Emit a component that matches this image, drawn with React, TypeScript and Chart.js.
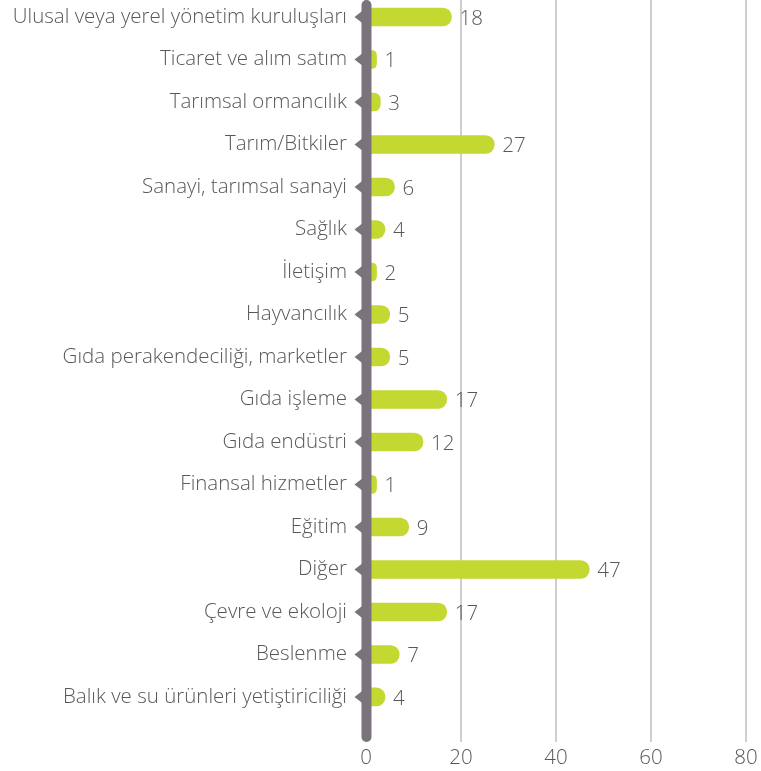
import React, { useEffect, useRef } from "react";
import { Chart, registerables } from "chart.js";

Chart.register(...registerables);

const categories = [
  "Ulusal veya yerel yönetim kuruluşları",
  "Ticaret ve alım satım",
  "Tarımsal ormancılık",
  "Tarım/Bitkiler",
  "Sanayi, tarımsal sanayi",
  "Sağlık",
  "İletişim",
  "Hayvancılık",
  "Gıda perakendeciliği, marketler",
  "Gıda işleme",
  "Gıda endüstri",
  "Finansal hizmetler",
  "Eğitim",
  "Diğer",
  "Çevre ve ekoloji",
  "Beslenme",
  "Balık ve su ürünleri yetiştiriciliği",
];

const values = [18, 1, 3, 27, 6, 4, 2, 5, 5, 17, 12, 1, 9, 47, 17, 7, 4];

const xTicks = [0, 20, 40, 60, 80];

const FONT = "'Open Sans', Lato, sans-serif";
const WEIGHT = 300;
const SIZE = 20.5;
const TEXT = "#58585a";

const decorPlugin = {
  id: "decor",
  afterDatasetsDraw(chart: any) {
    const { ctx, chartArea, scales } = chart;
    const x0 = scales.x.getPixelForValue(0) + 0.5;
    ctx.save();
    ctx.strokeStyle = "#7a737b";
    ctx.lineWidth = 10;
    ctx.lineCap = "round";
    ctx.beginPath();
    ctx.moveTo(x0, chartArea.top + 5);
    ctx.lineTo(x0, chartArea.bottom - 5);
    ctx.stroke();
    ctx.fillStyle = "#7a737b";
    categories.forEach((_, i) => {
      const cy = scales.y.getPixelForValue(i);
      ctx.beginPath();
      ctx.moveTo(x0 - 12, cy);
      ctx.lineTo(x0 - 3, cy - 7);
      ctx.lineTo(x0 - 3, cy + 7);
      ctx.closePath();
      ctx.fill();
    });
    ctx.fillStyle = TEXT;
    ctx.font = `${WEIGHT} ${SIZE}px ${FONT}`;
    ctx.textAlign = "left";
    ctx.textBaseline = "middle";
    const meta = chart.getDatasetMeta(0);
    values.forEach((v, i) => {
      const el = meta.data[i];
      const px = el ? el.x : scales.x.getPixelForValue(v);
      const cy = scales.y.getPixelForValue(i);
      ctx.fillText(String(v), px + 8, cy + 2);
    });
    ctx.restore();
  },
};

export default function App() {
  const ref = useRef<HTMLCanvasElement | null>(null);
  useEffect(() => {
    if (!ref.current) return;
    const chart = new Chart(ref.current, {
      type: "bar",
      data: {
        datasets: [
          {
            data: values.map((v, i) => ({ x: v, y: i })),
            backgroundColor: "#c3d831",
            barThickness: 18,
            borderRadius: 9,
            borderSkipped: "start",
            minBarLength: 10.5,
          } as any,
        ],
      },
      options: {
        indexAxis: "y",
        animation: false,
        responsive: false,
        maintainAspectRatio: false,
        layout: { padding: { top: 0, right: 15, bottom: 0, left: 0 } },
        plugins: { legend: { display: false }, tooltip: { enabled: false } },
        scales: {
          x: {
            type: "linear",
            min: 0,
            max: 80,
            afterBuildTicks: (s: any) => {
              s.ticks = xTicks.map((v) => ({ value: v }));
            },
            afterFit: (s: any) => {
              s.height = 29;
              s.paddingLeft = 0;
              s.paddingRight = 0;
            },
            grid: { color: "#cfcfcf", lineWidth: 2, drawTicks: false },
            border: { display: false },
            ticks: {
              padding: 4,
              color: TEXT,
              font: { family: FONT, size: SIZE, weight: WEIGHT },
            },
          },
          y: {
            type: "linear",
            reverse: true,
            offset: false,
            min: -0.4,
            max: 17.06,
            afterBuildTicks: (s: any) => {
              s.ticks = categories.map((_, i) => ({ value: i }));
            },
            afterFit: (s: any) => {
              s.width = 366;
              s.paddingTop = 0;
              s.paddingBottom = 0;
            },
            grid: { display: false, drawTicks: false, offset: false },
            border: { display: false },
            ticks: {
              padding: 19,
              color: TEXT,
              font: { family: FONT, size: SIZE, weight: WEIGHT },
              callback: (v: any) => categories[v as number] ?? "",
            },
          },
        },
      } as any,
      plugins: [decorPlugin],
    });
    return () => chart.destroy();
  }, []);
  return (
    <div style={{ position: "fixed", left: 0, top: 0, width: 761, height: 771, background: "#fff" }}>
      <canvas ref={ref} width={761} height={771} style={{ width: 761, height: 771 }} />
    </div>
  );
}
